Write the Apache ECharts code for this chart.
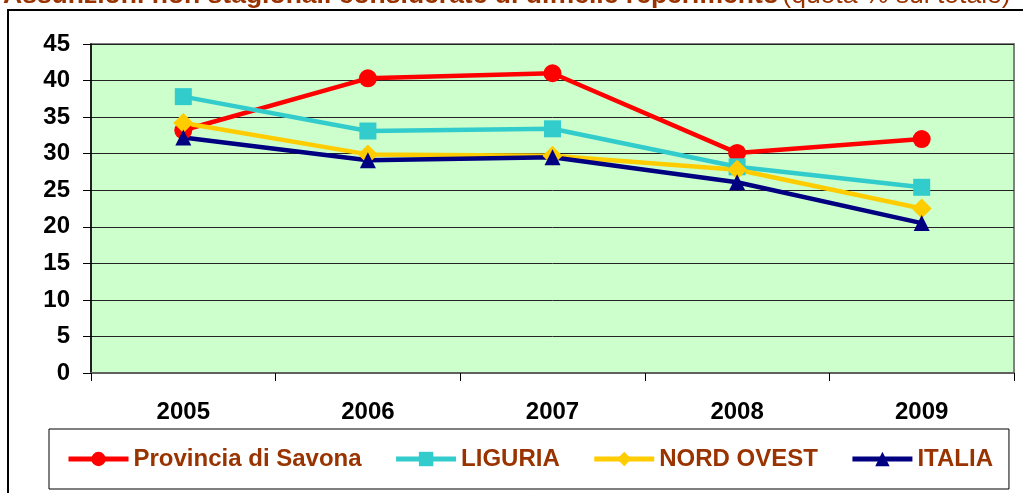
<!DOCTYPE html>
<html>
<head>
<meta charset="utf-8">
<script src="https://cdn.jsdelivr.net/npm/echarts@6/dist/echarts.min.js"></script>
<style>
	html, body { margin: 0; padding: 0; background: #fff; }
	#chart-container { width: 1023px; height: 493px; }
</style>
</head>
<body>
<div id="chart-container"></div>
<script>

var anni = ['2005', '2006', '2007', '2008', '2009'];
var yTicks = [0, 5, 10, 15, 20, 25, 30, 35, 40, 45];

var savona = [33.2, 40.3, 41.0, 30.1, 32.0];
var liguria = [37.8, 33.1, 33.4, 28.2, 25.4];
var nordOvest = [34.2, 29.9, 29.7, 27.8, 22.5];
var italia = [32.2, 29.1, 29.5, 26.1, 20.5];

var fontName = 'Liberation Sans, Arial, sans-serif';

function makeSerie(nome, dati, colore, simbolo, size) {
	return {
		name : nome,
		type : 'line',
		data : dati,
		symbol : simbolo,
		symbolSize : size,
		showAllSymbol : true,
		lineStyle : { color : colore, width : 4.5 },
		itemStyle : { color : colore },
		emphasis : { disabled : true },
		animation : false
	};
}

var myChart = echarts.init(document.getElementById('chart-container'));

var option = {
	backgroundColor : '#ffffff',
	animation : false,
	textStyle : { fontFamily : fontName },
	graphic : [{
		type : 'rect',
		shape : { x : 8, y : 10, width : 1040, height : 500 },
		style : { fill : 'none', stroke : '#000', lineWidth : 2 },
		silent : true
	}, {
		type : 'text',
		x : 3,
		y : -4,
		style : {
			text : '{b|Assunzioni non stagionali considerate di difficile reperimento} {n|(quota % sul totale)}',
			verticalAlign : 'middle',
			rich : {
				b : { fontSize : 26.5, fontWeight : 'bold', fill : '#993300', fontFamily : fontName },
				n : { fontSize : 26.5, fill : '#993300', fontFamily : fontName }
			}
		},
		silent : true
	}],
	grid : {
		left : 91,
		top : 44,
		right : 9,
		bottom : 120,
		show : true,
		backgroundColor : '#CCFFCC',
		borderColor : '#808080',
		borderWidth : 2
	},
	legend : {
		left : 49,
		top : 429,
		orient : 'horizontal',
		padding : [18, 16, 18, 17],
		borderColor : '#000',
		borderWidth : 1,
		itemWidth : 60,
		itemHeight : 18,
		itemGap : 32,
		lineStyle : { width : 5 },
		textStyle : { color : '#993300', fontSize : 24, fontWeight : 'bold', fontFamily : fontName },
		data : ['Provincia di Savona', 'LIGURIA', 'NORD OVEST', 'ITALIA']
	},
	xAxis : {
		type : 'category',
		data : anni,
		boundaryGap : true,
		axisLine : { lineStyle : { color : '#606060', width : 2 } },
		axisTick : { show : true, length : 8, lineStyle : { color : '#000' } },
		axisLabel : { color : '#000', fontSize : 24, fontWeight : 'bold', margin : 27, fontFamily : fontName },
		splitLine : { show : false }
	},
	yAxis : {
		type : 'value',
		min : yTicks[0],
		max : yTicks[yTicks.length - 1],
		interval : 5,
		axisLine : { show : true, lineStyle : { color : '#000', width : 1.5 } },
		axisTick : { show : true, length : 8, inside : false, lineStyle : { color : '#000' } },
		axisLabel : { color : '#000', fontSize : 24, fontWeight : 'bold', margin : 21, fontFamily : fontName },
		splitLine : { show : true, lineStyle : { color : '#222', width : 1 } }
	},
	series : [
		makeSerie('Provincia di Savona', savona, '#FF0000', 'circle', 18),
		makeSerie('LIGURIA', liguria, '#33CCCC', 'rect', 17),
		makeSerie('NORD OVEST', nordOvest, '#FFCC00', 'diamond', 20),
		makeSerie('ITALIA', italia, '#000080', 'triangle', 16)
	]
};

myChart.setOption(option);

</script>
</body>
</html>
